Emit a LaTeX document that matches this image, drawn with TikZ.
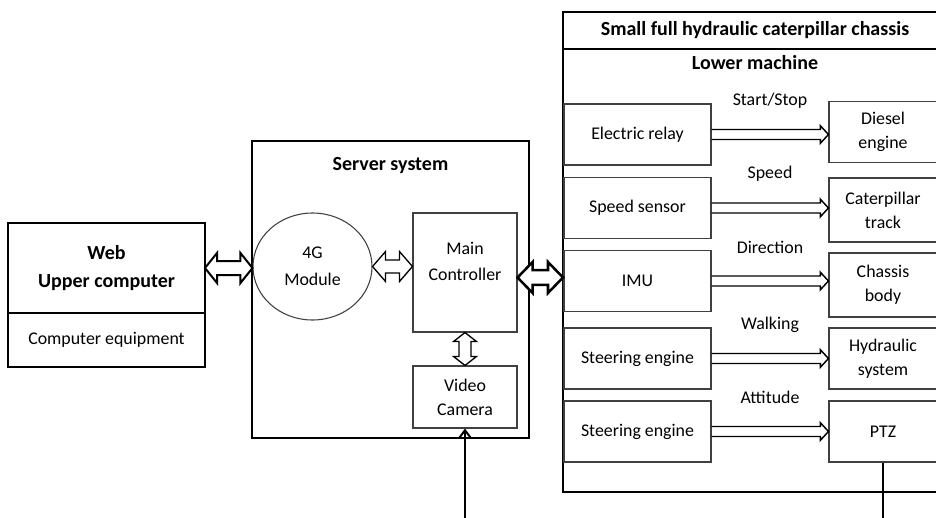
\documentclass[tikz,border=0pt]{standalone}
\usepackage{fontspec}
\setmainfont{Carlito}
\usetikzlibrary{positioning,shapes,calc,arrows.meta}

\newcommand{\bodyfont}{\fontsize{13.4pt}{18pt}\selectfont}
\newcommand{\headfont}{\fontsize{15pt}{21pt}\selectfont\bfseries}

\tikzset{
	outer/.style={draw, line width=1.5pt, outer sep=0pt},
	box/.style={draw=black!75, line width=0.8pt, align=center, font=\bodyfont},
	ctrl/.style={box, minimum width=110.25pt, minimum height=45.75pt},
	unit/.style={box, minimum width=81pt, minimum height=45.75pt},
	flow/.style={line width=1.1pt},
	link/.style={line width=1.5pt, fill=white},
}

% block arrow with heads on both ends: [opts]{from}{to}{shaft half}{head half}{head length}
\newcommand{\linkarrow}[6][]{%
	\draw[link,#1] let \p1=(#2), \p2=(#3) in
		(\x1,\y1) -- (\x1+#6,\y1+#5) -- (\x1+#6,\y1+#4) -- (\x2-#6,\y1+#4)
		-- (\x2-#6,\y1+#5) -- (\x2,\y1) -- (\x2-#6,\y1-#5) -- (\x2-#6,\y1-#4)
		-- (\x1+#6,\y1-#4) -- (\x1+#6,\y1-#5) -- cycle;
}
% same, running downwards
\newcommand{\vlinkarrow}[6][]{%
	\draw[link,#1] let \p1=(#2), \p2=(#3) in
		(\x1,\y1) -- (\x1+#5,\y1-#6) -- (\x1+#4,\y1-#6) -- (\x1+#4,\y2+#6)
		-- (\x1+#5,\y2+#6) -- (\x1,\y2) -- (\x1-#5,\y2+#6) -- (\x1-#4,\y2+#6)
		-- (\x1-#4,\y1-#6) -- (\x1-#5,\y1-#6) -- cycle;
}
% open-ended block arrow inside the chassis: {from}{to}{label}{label name}
\newcommand{\flowarrow}[4]{%
	\draw[flow] let \p1=(#1.east), \p2=(#2.west) in
		(\x1,\y1+3.75pt) -- (\x2-6pt,\y1+3.75pt) -- (\x2-6pt,\y1+6.5pt)
		-- (\x2,\y1) -- (\x2-6pt,\y1-6.5pt) -- (\x2-6pt,\y1-3.75pt) -- (\x1,\y1-3.75pt)
		({(\x1+\x2)/2},\y1+25.5pt) node[font=\bodyfont] (#4) {#3};
}

\begin{document}
\begin{tikzpicture}[x=0.75pt,y=-0.75pt]

\useasboundingbox (0,0) rectangle (936,518);

% Web upper computer
\node [outer,
	minimum width=147.75pt,
	minimum height=67.5pt,
	align=center,
	font=\headfont
] (web) at (106.5,268) {
Web\\Upper computer
};
\node [outer,
	minimum width=147.75pt,
	minimum height=40.5pt,
	font=\bodyfont,
	below = 0pt of web
] (equipment) {
Computer equipment
};

% Server system
\node [outer,
	minimum width=207.75pt,
	minimum height=222.75pt
] (server) at (390.5,289.5) {};
\node [font=\headfont] (server_title) at ([yshift=-18.75pt] server.north) {Server system};

\node [draw=black!75,
	ellipse,
	line width=0.8pt,
	minimum width=89.25pt,
	minimum height=80.25pt,
	inner sep=0pt,
	align=center,
	font=\fontsize{13.4pt}{20pt}\selectfont
] (module) at (312.5,266.5) {
4G\\Module
};

\node [box,
	minimum width=78pt,
	minimum height=89.25pt,
	text depth=17pt,
	font=\fontsize{13.4pt}{19.5pt}\selectfont
] (controller) at (465,272.5) {
Main\\Controller
};

\node [box,
	minimum width=78pt,
	minimum height=46.5pt
] (camera) at (465,397) {
Video\\Camera
};

% Chassis
\node [outer,
	minimum width=288pt,
	minimum height=360pt
] (chassis) at (755,252) {};
\node [outer,
	minimum width=288pt,
	minimum height=27.75pt,
	anchor=north,
	font=\headfont
] (chassis_title) at (chassis.north) {
Small full hydraulic caterpillar chassis
};
\node [font=\headfont] (lower_machine) at (755,63) {Lower machine};

\node [ctrl] (relay) at (637.5,134.5) {Electric relay};
\node [ctrl] (speed_sensor) at (637.5,208) {Speed sensor};
\node [ctrl] (imu) at (637.5,281) {IMU};
\node [ctrl] (steering_walk) at (637.5,358.5) {Steering engine};
\node [ctrl] (steering_ptz) at (637.5,431.5) {Steering engine};

\node [unit] (diesel) at (883,132) {Diesel\\engine};
\node [unit, minimum height=48pt] (track) at (883,210) {Caterpillar\\track};
\node [unit, minimum height=48pt] (body) at (883,285) {Chassis\\body};
\node [unit] (hydraulic) at (883,358.5) {Hydraulic\\system};
\node [unit] (ptz) at (883,431.5) {PTZ};

% Arrows
\linkarrow{web.east}{module.west}{5.25pt}{11.25pt}{9pt}
\linkarrow[line width=1pt]{module.east}{controller.west}{4.9pt}{11.25pt}{9.75pt}
\linkarrow[line width=1.9pt]{[yshift=-3.75pt] controller.east}{chassis.west}{5.6pt}{11.6pt}{11.25pt}
\vlinkarrow[line width=1pt]{controller.south}{camera.north}{4.5pt}{8.6pt}{6.75pt}

\flowarrow{relay}{diesel}{Start/Stop}{start_stop}
\flowarrow{speed_sensor}{track}{Speed}{speed}
\flowarrow{imu}{body}{Direction}{direction}
\flowarrow{steering_walk}{hydraulic}{Walking}{walking}
\flowarrow{steering_ptz}{ptz}{Attitude}{attitude}

\coordinate (camera_in) at (camera.south |- 0,520);
\coordinate (ptz_out) at (ptz.south |- 0,520);
\draw[line width=1.5pt, -{Straight Barb[length=6pt,width=9pt]}] (camera_in) -- (camera.south);
\draw[line width=1.5pt] (ptz.south) -- (ptz_out);

\end{tikzpicture}
\end{document}
